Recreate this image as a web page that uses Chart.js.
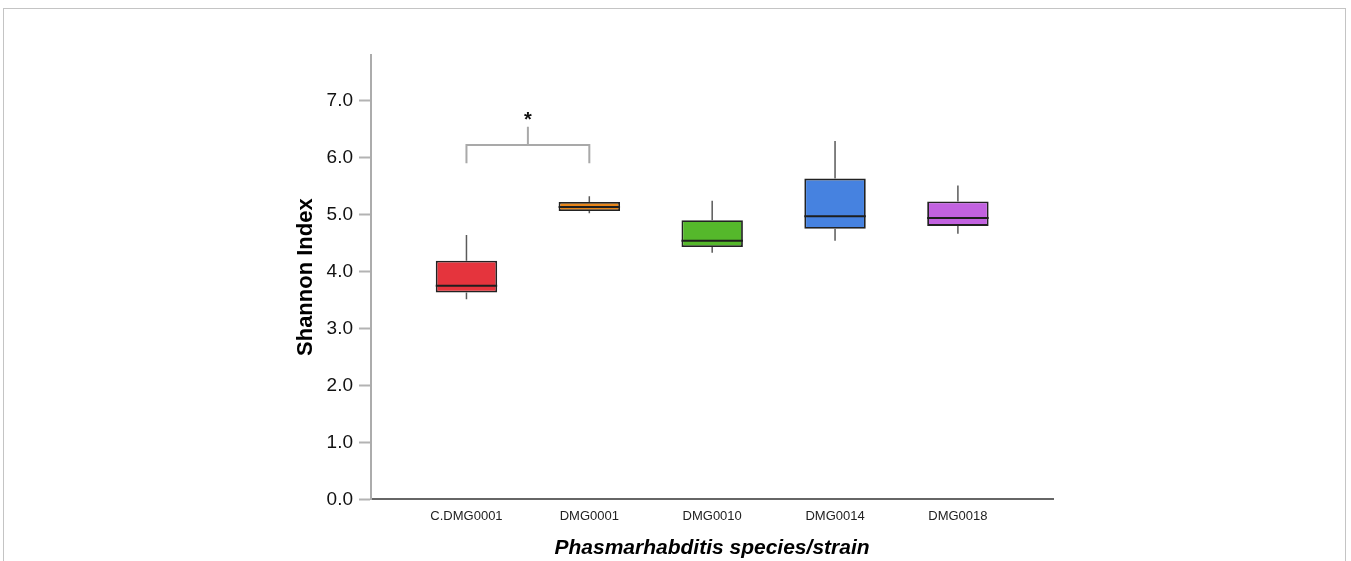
<!DOCTYPE html>
<html>
<head>
<meta charset="utf-8">
<script src="https://cdn.jsdelivr.net/npm/chart.js@4/dist/chart.umd.min.js"></script>
<style>
  html, body { margin: 0; padding: 0; background: #fff; overflow: hidden; }
  #wrap { position: relative; width: 1351px; height: 561px; }
  #frame { position: absolute; left: 3px; top: 8px; width: 1343px; height: 600px; border: 1px solid #c4c4c4; box-sizing: border-box; pointer-events: none; }
  canvas { position: absolute; left: 0; top: 0; }
</style>
</head>
<body>
<div id="wrap">
  <canvas id="c" width="1351" height="561"></canvas>
  <div id="frame"></div>
</div>
<script>
// ---- data ----
const categories   = ['C.DMG0001', 'DMG0001', 'DMG0010', 'DMG0014', 'DMG0018'];
const whiskerLow   = [3.51, 5.02, 4.33, 4.54, 4.66];
const quartile1    = [3.63, 5.06, 4.43, 4.75, 4.80];
const medians      = [3.75, 5.13, 4.54, 4.97, 4.94];
const quartile3    = [4.19, 5.22, 4.90, 5.63, 5.23];
const whiskerHigh  = [4.64, 5.32, 5.24, 6.29, 5.51];
const yTickValues  = [0, 1, 2, 3, 4, 5, 6, 7];
const boxColors    = ['#e5343d', '#e8861a', '#55b82b', '#4682e0', '#c262e0'];
// significance bracket between two groups
const sigGroups    = [0, 1];
const sigLegLow    = 5.90;
const sigBar       = 6.22;
const sigStemTop   = 6.54;
const sigLabel     = '*';

const boxPlugin = {
  id: 'boxParts',
  afterDatasetsDraw(chart) {
    const ctx = chart.ctx;
    const xs = chart.scales.x, ys = chart.scales.y;
    ctx.save();
    for (let i = 0; i < categories.length; i++) {
      const xc = xs.getPixelForValue(i);
      const half = xs.getPixelForValue(i + 0.25) - xc;
      // whiskers
      ctx.strokeStyle = '#5a5a5a';
      ctx.lineWidth = 1.5;
      ctx.beginPath();
      ctx.moveTo(xc, ys.getPixelForValue(whiskerHigh[i]));
      ctx.lineTo(xc, ys.getPixelForValue(quartile3[i]));
      ctx.moveTo(xc, ys.getPixelForValue(quartile1[i]));
      ctx.lineTo(xc, ys.getPixelForValue(whiskerLow[i]));
      ctx.stroke();
      // median
      ctx.strokeStyle = '#1e1e1e';
      ctx.lineWidth = 2;
      ctx.beginPath();
      const ym = ys.getPixelForValue(medians[i]);
      ctx.moveTo(xc - half, ym);
      ctx.lineTo(xc + half, ym);
      ctx.stroke();
    }
    // significance bracket
    const xa = xs.getPixelForValue(sigGroups[0]);
    const xb = xs.getPixelForValue(sigGroups[1]);
    const xm = (xa + xb) / 2;
    ctx.strokeStyle = '#a9a9a9';
    ctx.lineWidth = 2;
    ctx.beginPath();
    ctx.moveTo(xa, ys.getPixelForValue(sigLegLow));
    ctx.lineTo(xa, ys.getPixelForValue(sigBar));
    ctx.lineTo(xb, ys.getPixelForValue(sigBar));
    ctx.lineTo(xb, ys.getPixelForValue(sigLegLow));
    ctx.moveTo(xm, ys.getPixelForValue(sigBar));
    ctx.lineTo(xm, ys.getPixelForValue(sigStemTop));
    ctx.stroke();
    ctx.fillStyle = '#111';
    ctx.font = 'bold 20px "Liberation Sans", Arial, sans-serif';
    ctx.textAlign = 'center';
    ctx.textBaseline = 'alphabetic';
    ctx.fillText(sigLabel, xm, ys.getPixelForValue(sigStemTop) - 1);
    ctx.restore();
  }
};

Chart.defaults.font.family = '"Liberation Sans", Arial, sans-serif';

new Chart(document.getElementById('c'), {
  type: 'bar',
  data: {
    datasets: [{
      data: categories.map((c, i) => ({ x: i, y: [quartile1[i], quartile3[i]] })),
      backgroundColor: boxColors,
      borderColor: '#222',
      borderWidth: 1.8,
      borderSkipped: false,
      categoryPercentage: 1,
      barPercentage: 0.5
    }]
  },
  options: {
    responsive: false,
    animation: false,
    events: [],
    layout: { padding: { left: 290, top: 55, right: 298, bottom: 0 } },
    plugins: { legend: { display: false }, tooltip: { enabled: false } },
    scales: {
      x: {
        type: 'linear',
        offset: false,
        min: -0.777,
        max: 4.774,
        afterBuildTicks: s => { s.ticks = categories.map((c, i) => ({ value: i })); },
        afterFit: s => { s.height = 61.7; },
        ticks: {
          callback: v => categories[v],
          font: { size: 13 },
          color: '#222',
          padding: 9,
          maxRotation: 0,
          autoSkip: false
        },
        grid: { drawOnChartArea: false, drawTicks: false, offset: false },
        border: { color: '#666', width: 2 },
        title: {
          display: true,
          text: 'Phasmarhabditis species/strain',
          font: { size: 21, weight: 'bold', style: 'italic' },
          color: '#000',
          padding: { top: 0, bottom: 0 }
        }
      },
      y: {
        min: 0,
        max: 7.8,
        afterBuildTicks: s => { s.ticks = yTickValues.map(v => ({ value: v })); },
        afterFit: s => { s.width = 81; },
        ticks: {
          callback: v => Number(v).toFixed(1),
          font: { size: 19 },
          color: '#111',
          padding: 6
        },
        grid: { drawOnChartArea: false, drawTicks: true, tickLength: 12, tickColor: '#b3b3b3', tickWidth: 2 },
        border: { color: '#acacac', width: 2 },
        title: {
          display: true,
          text: 'Shannon Index',
          font: { size: 22, weight: 'bold' },
          color: '#000',
          padding: { top: 3, bottom: 0 }
        }
      }
    }
  },
  plugins: [boxPlugin]
});
</script>
</body>
</html>
